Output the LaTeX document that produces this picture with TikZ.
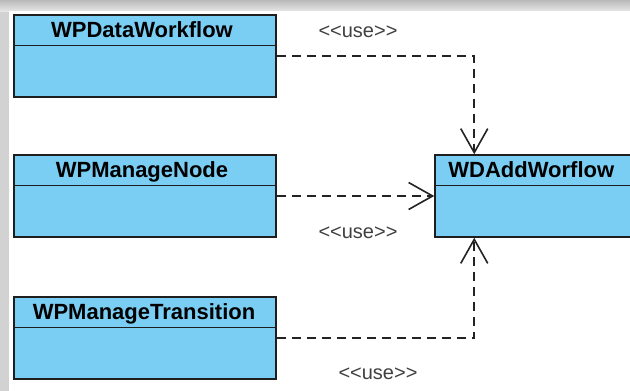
\documentclass[tikz,border=0pt]{standalone}
\usepackage{fontspec}
\setmainfont{Liberation Sans}
\usetikzlibrary{arrows.meta,calc}
\definecolor{clsfill}{RGB}{122,206,244}
\definecolor{clsline}{RGB}{30,30,30}
\definecolor{deplin}{RGB}{35,35,35}
\tikzset{
  cls/.style={draw=clsline, fill=clsfill, line width=1.5pt, minimum width=262pt, minimum height=82pt, inner sep=0pt},
  clstitle/.style={font=\fontsize{22}{22}\selectfont\bfseries, text=black, inner sep=0pt},
  dep/.style={draw=deplin, line width=1.6pt, dash pattern=on 9pt off 6pt, -{Straight Barb[length=24pt,width=27pt,line width=1.6pt]}},
  uselbl/.style={font=\fontsize{20}{20}\selectfont, text=black!75, inner sep=0pt}
}
\begin{document}
\begin{tikzpicture}[x=1pt,y=-1pt]
\useasboundingbox (0,0) rectangle (630,391);
\fill[gray!35] (0,0) rectangle (630,391);
\shade[top color=gray!55, bottom color=gray!20] (0,0) rectangle (630,11);
\fill[white] (9,11) rectangle (630,391);
% classes
\node[cls] (b1) at (145,56) {};
\node[cls] (b2) at (145,196) {};
\node[cls] (b3) at (145,338) {};
\node[cls, minimum width=200pt] (wd) at (535,196) {};
\foreach \b in {b1,b2,b3,wd}{
  \draw[clsline, line width=1.5pt] ([yshift=-31pt]\b.north west) -- ([yshift=-31pt]\b.north east);
}
\node[clstitle, anchor=base] (t1) at ($(b1.north)+(-3,23)$) {WPDataWorkflow};
\node[clstitle, anchor=base] (t2) at ($(b2.north)+(-3,23)$) {WPManageNode};
\node[clstitle, anchor=base] (t3) at ($(b3.north)+(-1,23)$) {WPManageTransition};
\node[clstitle, anchor=base west] (t4) at ($(wd.north west)+(14,23)$) {WDAddWorflow};
% dependencies
\draw[dep] (b1.east) -| ([xshift=40pt]wd.north west);
\draw[dep] (b2.east) -- (wd.west);
\draw[dep] (b3.east) -| ([xshift=40pt]wd.south west);
% labels
\node[uselbl] (u1) at (358,32) {<{}<use>{}>};
\node[uselbl] (u2) at (358,233) {<{}<use>{}>};
\node[uselbl] (u3) at (378,374) {<{}<use>{}>};
\end{tikzpicture}
\end{document}
